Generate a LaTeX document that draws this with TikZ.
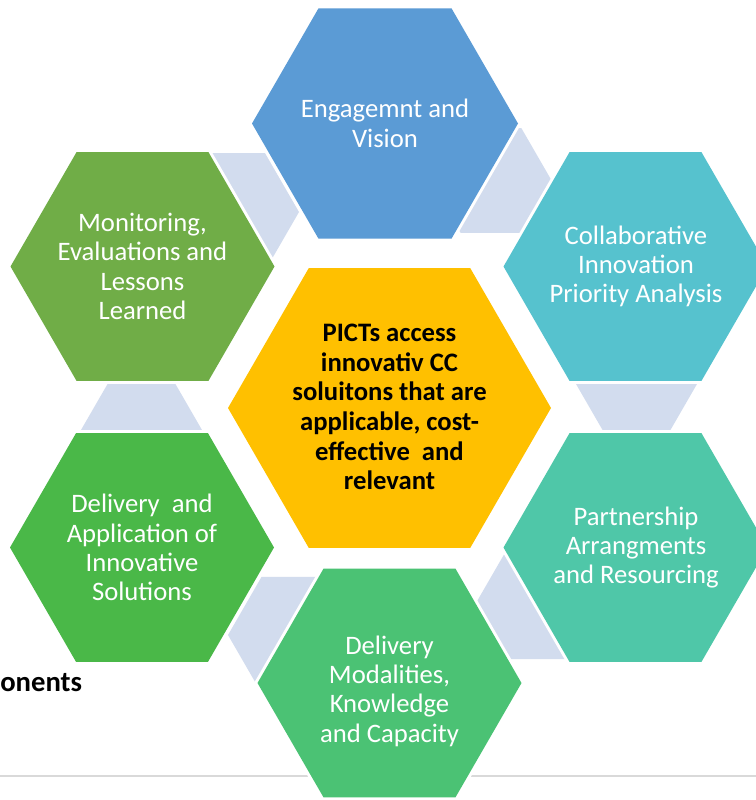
\documentclass[tikz,border=0pt]{standalone}
\usepackage{fontspec}
\setmainfont{Carlito}
\newcommand\hexshape[4]{%
  \path[#4] ({#1+#3},#2) -- ({#1+#3/2},{#2+0.8660254*#3}) -- ({#1-#3/2},{#2+0.8660254*#3})
   -- ({#1-#3},#2) -- ({#1-#3/2},{#2-0.8660254*#3}) -- ({#1+#3/2},{#2-0.8660254*#3}) -- cycle;}
\definecolor{cEng}{HTML}{5B9BD5}
\definecolor{cMon}{HTML}{70AD47}
\definecolor{cCol}{HTML}{56C2CE}
\definecolor{cPar}{HTML}{4FC7A8}
\definecolor{cDap}{HTML}{4AB848}
\definecolor{cDmo}{HTML}{4BC274}
\definecolor{cCtr}{HTML}{FFC000}
\definecolor{cCon}{HTML}{D2DCEE}
\definecolor{cLine}{HTML}{D9D9D9}
\tikzset{
  mainhex/.style={fill=#1, preaction={draw=white, line width=4.5pt, line join=miter}},
  conhex/.style={fill=cCon},
  lbl/.style={text=white, align=center, inner sep=0pt, font=\fontsize{20pt}{22pt}\selectfont},
  ctrlbl/.style={text=black, align=center, inner sep=0pt, font=\fontsize{20pt}{22.2pt}\selectfont\bfseries},
}
\begin{document}
\begin{tikzpicture}[x=0.75pt,y=-0.75pt]
\clip (0,0) rectangle (756,800);
\fill[white] (0,0) rectangle (756,800);
% bottom rule
\draw[cLine, line width=1.5pt] (0,776) -- (756,776);
% connectors
\hexshape{231}{212}{68}{conhex}
\hexshape{491}{180.5}{60.6}{conhex}
\hexshape{636.5}{384}{60.5}{conhex}
\hexshape{141.5}{430}{60.5}{conhex}
\hexshape{540.7}{603}{64.7}{conhex}
\hexshape{295}{635}{67}{conhex}
% main hexagons
\hexshape{385}{123.5}{133}{mainhex=cEng}
\hexshape{142.5}{266.5}{132}{mainhex=cMon}
\hexshape{635.5}{266.5}{132}{mainhex=cCol}
\hexshape{635.5}{547.5}{132}{mainhex=cPar}
\hexshape{142}{547.5}{132}{mainhex=cDap}
\hexshape{389.5}{683}{132}{mainhex=cDmo}
\hexshape{389.5}{408}{161.5}{mainhex=cCtr}
% labels
\node[lbl] (eng) at (385,123.5) {Engagemnt and\\Vision};
\node[lbl] (mon) at (142.5,266.5) {Monitoring,\\Evaluations and\\Lessons\\Learned};
\node[lbl] (col) at (636,266.5) {Collaborative\\Innovation\\Priority Analysis};
\node[lbl] (par) at (636,547.5) {Partnership\\Arrangments\\and Resourcing};
\node[lbl] (dap) at (142,547.5) {Delivery~~and\\Application of\\Innovative\\Solutions};
\node[lbl] (dmo) at (389.5,691) {Delivery\\Modalities,\\Knowledge\\and Capacity};
\node[ctrlbl] (ctr) at (389.5,407) {PICTs access\\innovativ CC\\soluitons that are\\applicable, cost-\\effective~~and\\relevant};
\node[anchor=base west, inner sep=0pt, font=\fontsize{21.5pt}{24pt}\selectfont\bfseries] (comp) at (0,691) {onents};
\end{tikzpicture}
\end{document}
